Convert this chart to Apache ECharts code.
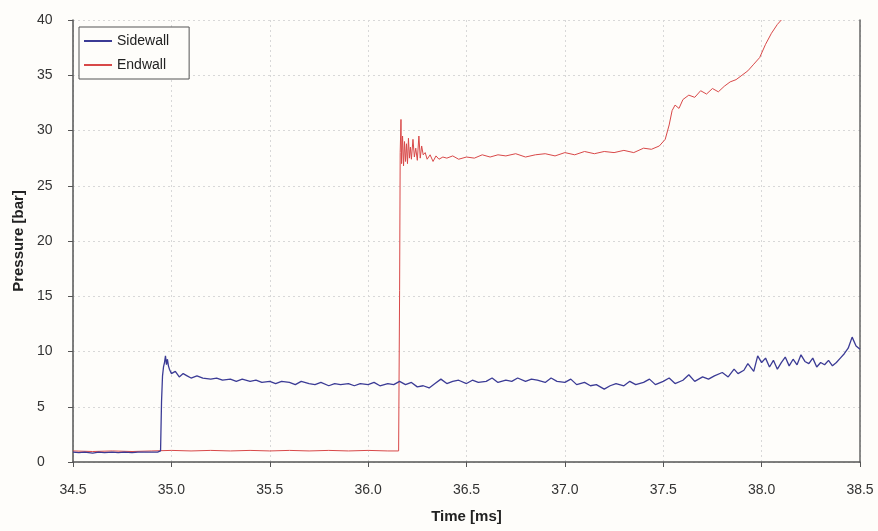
<!DOCTYPE html>
<html>
<head>
<meta charset="utf-8">
<script src="https://cdn.jsdelivr.net/npm/echarts@6/dist/echarts.min.js"></script>
<style>html,body{margin:0;padding:0;background:#fefdfa;}#c{width:878px;height:531px;}</style>
</head>
<body>
<div id="c"></div>
<script>
// Time [ms] / Pressure [bar] pairs
var sidewallTime = [34.50,34.53,34.56,34.60,34.63,34.66,34.70,34.73,34.76,34.80,34.83,34.86,34.90,34.93,34.945,34.95,34.955,34.96,34.965,34.97,34.975,34.98,34.985,34.99,35.00,35.02,35.04,35.06,35.08,35.10,35.13,35.16,35.20,35.23,35.26,35.30,35.33,35.36,35.40,35.43,35.46,35.50,35.53,35.56,35.60,35.63,35.66,35.70,35.73,35.76,35.80,35.83,35.86,35.90,35.93,35.96,36.00,36.03,36.06,36.10,36.13,36.16,36.19,36.22,36.25,36.28,36.31,36.34,36.37,36.40,36.43,36.46,36.50,36.53,36.56,36.60,36.63,36.66,36.70,36.73,36.76,36.80,36.83,36.86,36.90,36.93,36.96,37.00,37.03,37.06,37.10,37.13,37.16,37.20,37.23,37.26,37.30,37.33,37.36,37.40,37.43,37.46,37.50,37.53,37.56,37.60,37.63,37.66,37.70,37.73,37.76,37.80,37.83,37.86,37.88,37.91,37.93,37.96,37.98,38.00,38.02,38.04,38.06,38.08,38.10,38.12,38.14,38.16,38.18,38.20,38.22,38.24,38.26,38.28,38.30,38.32,38.34,38.36,38.38,38.40,38.42,38.44,38.46,38.48,38.50];
var sidewallPressure = [0.9,0.85,0.9,0.8,0.9,0.85,0.9,0.85,0.9,0.85,0.9,0.9,0.9,0.9,1.0,5.5,7.8,8.6,9.0,9.6,8.8,9.3,8.7,8.4,8.0,8.2,7.7,8.0,7.8,7.6,7.8,7.6,7.5,7.6,7.4,7.5,7.3,7.5,7.3,7.4,7.2,7.3,7.1,7.3,7.2,7.0,7.3,7.1,7.0,7.2,6.9,7.1,7.0,7.1,6.9,7.1,7.0,7.2,6.9,7.1,7.0,7.3,7.0,7.2,6.8,6.9,6.7,7.1,7.5,7.1,7.3,7.4,7.1,7.4,7.2,7.3,7.6,7.2,7.4,7.3,7.6,7.3,7.5,7.4,7.2,7.6,7.3,7.2,7.5,7.0,7.2,6.9,7.0,6.6,6.9,7.1,6.9,7.3,7.0,7.2,7.5,7.0,7.3,7.6,7.1,7.4,7.9,7.3,7.7,7.5,7.8,8.1,7.7,8.4,8.0,8.3,8.9,8.2,9.6,9.0,9.4,8.6,9.2,8.4,9.0,9.5,8.7,9.3,8.8,9.7,9.1,8.9,9.4,8.6,9.0,8.8,9.2,8.7,9.0,9.4,9.8,10.3,11.3,10.5,10.2];

var endwallTime = [34.50,34.60,34.70,34.80,34.90,35.00,35.10,35.20,35.30,35.40,35.50,35.60,35.70,35.80,35.90,36.00,36.10,36.155,36.160,36.163,36.167,36.170,36.175,36.180,36.185,36.190,36.195,36.200,36.205,36.210,36.215,36.220,36.228,36.235,36.242,36.250,36.258,36.265,36.272,36.280,36.290,36.300,36.315,36.330,36.345,36.360,36.380,36.400,36.430,36.460,36.500,36.540,36.580,36.620,36.660,36.700,36.750,36.800,36.850,36.900,36.950,37.000,37.050,37.100,37.150,37.200,37.250,37.300,37.350,37.400,37.440,37.480,37.510,37.530,37.545,37.560,37.580,37.600,37.630,37.660,37.690,37.720,37.750,37.780,37.810,37.840,37.870,37.900,37.930,37.960,37.990,38.020,38.050,38.080,38.100];
var endwallPressure = [1.0,0.95,1.0,0.95,1.0,1.05,1.0,1.05,1.0,1.05,1.0,1.05,1.0,1.05,1.0,1.05,1.0,1.0,15.5,28.0,31.0,27.0,29.5,26.8,29.0,27.2,28.8,27.0,29.3,27.5,28.5,27.4,29.2,27.6,28.4,27.3,29.5,27.5,28.6,27.8,28.0,27.4,27.8,27.2,27.7,27.4,27.6,27.5,27.7,27.4,27.6,27.5,27.8,27.6,27.8,27.7,27.9,27.6,27.8,27.9,27.7,28.0,27.8,28.1,27.9,28.1,28.0,28.2,28.0,28.4,28.3,28.6,29.2,30.5,31.8,32.3,32.0,32.8,33.2,33.0,33.6,33.3,33.8,33.5,34.0,34.4,34.6,35.0,35.4,36.0,36.6,37.8,38.8,39.6,40.0];

var xTicks = [34.5,35.0,35.5,36.0,36.5,37.0,37.5,38.0,38.5];
var yTicks = [0,5,10,15,20,25,30,35,40];

function pairs(t, p){ var out=[]; for(var i=0;i<t.length;i++){ out.push([t[i],p[i]]); } return out; }

var chart = echarts.init(document.getElementById('c'), null, {renderer:'canvas'});
var gridStyle = {show:true, lineStyle:{color:'#d8d8d8', type:[2,3], width:1}};
chart.setOption({
  backgroundColor:'#fefdfa',
  animation:false,
  textStyle:{fontFamily:'Liberation Sans, Arial, sans-serif'},
  grid:{left:73, right:18, top:20, bottom:69, containLabel:false, outerBoundsMode:'none'},
  legend:{
    left:79, top:27, orient:'vertical', itemGap:10, itemWidth:28, itemHeight:2,
    backgroundColor:'#fefdfa', borderColor:'#555', borderWidth:1, padding:[7,20,7,5],
    textStyle:{fontSize:14, color:'#222'},
    data:[{name:'Sidewall', icon:'rect'},{name:'Endwall', icon:'rect'}]
  },
  xAxis:{
    type:'value', min:34.5, max:38.5, interval:0.5,
    name:'Time [ms]', nameLocation:'middle', nameGap:47,
    nameTextStyle:{fontSize:15, fontWeight:'bold', color:'#222'},
    axisLine:{show:true, onZero:false, lineStyle:{color:'#555', width:1.5}},
    axisTick:{show:true, length:5, lineStyle:{color:'#555'}},
    axisLabel:{fontSize:14, color:'#333', margin:21, formatter:function(v){return v.toFixed(1);}},
    splitLine:gridStyle
  },
  yAxis:[{
    type:'value', min:0, max:40, interval:5,
    name:'Pressure [bar]', nameLocation:'middle', nameGap:47, nameRotate:90,
    nameTextStyle:{fontSize:15, fontWeight:'bold', color:'#222'},
    axisLine:{show:true, lineStyle:{color:'#555', width:1.5}},
    axisTick:{show:true, length:5, lineStyle:{color:'#555'}},
    axisLabel:{fontSize:14, color:'#333', margin:18, align:'left', padding:[0,0,0,-18]},
    splitLine:gridStyle
  },{
    type:'value', min:0, max:40, interval:5, position:'right',
    axisLine:{show:true, lineStyle:{color:'#666', width:1.5}},
    axisTick:{show:false}, axisLabel:{show:false}, splitLine:{show:false}
  }],
  series:[
    {name:'Sidewall', type:'line', data:pairs(sidewallTime, sidewallPressure), showSymbol:false, symbol:'none',
      lineStyle:{color:'#3b3b95', width:1.3}, itemStyle:{color:'#3b3b95'}, z:3},
    {name:'Endwall', type:'line', data:pairs(endwallTime, endwallPressure), showSymbol:false, symbol:'none',
      lineStyle:{color:'#d84848', width:1}, itemStyle:{color:'#d84848'}, z:2}
  ]
});
</script>
</body>
</html>
